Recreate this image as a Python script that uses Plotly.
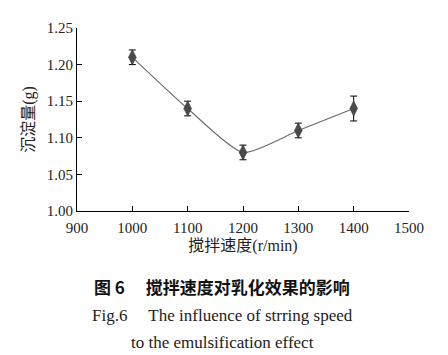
import plotly.graph_objects as go

speed = [1000, 1100, 1200, 1300, 1400]
sediment = [1.21, 1.14, 1.08, 1.11, 1.14]
err = [0.01, 0.01, 0.01, 0.01, 0.017]
x_ticks = [900, 1000, 1100, 1200, 1300, 1400, 1500]
y_ticks = [1.00, 1.05, 1.10, 1.15, 1.20, 1.25]

serif = "Liberation Serif, Noto Sans CJK SC, serif"

fig = go.Figure()
fig.add_trace(go.Scatter(
    x=speed, y=sediment, mode="lines",
    line=dict(shape="spline", smoothing=0.6, color="#6a6a6a", width=1.1),
    hoverinfo="skip", showlegend=False))
fig.add_trace(go.Scatter(
    x=speed, y=sediment, mode="markers",
    marker=dict(symbol="diamond-tall", size=11, color="#4a4a4a",
                line=dict(color="#333333", width=0.5)),
    error_y=dict(type="data", array=err, visible=True, color="black",
                 thickness=1, width=3.5),
    showlegend=False))

fig.update_layout(
    width=440, height=347,
    margin=dict(l=69, r=39, t=16, b=144),
    paper_bgcolor="white", plot_bgcolor="white",
    font=dict(family=serif, size=15, color="#222222"),
    xaxis=dict(range=[900, 1500], tickvals=x_ticks, ticktext=[str(v) for v in x_ticks],
               showline=True, linecolor="black", linewidth=1, mirror=False,
               ticks="inside", ticklen=5, tickcolor="black", showgrid=False,
               zeroline=False, ticklabelstandoff=3,
               title=dict(text="搅拌速度(r/min)", standoff=4,
                          font=dict(family=serif, size=16))),
    yaxis=dict(range=[1.00, 1.25], tickvals=y_ticks, ticktext=[f"{v:.2f}" for v in y_ticks],
               showline=True, linecolor="black", linewidth=1, mirror=False,
               ticks="inside", ticklen=5, tickcolor="black", showgrid=False,
               zeroline=False,
               title=dict(text="沉淀量(g)", standoff=8,
                          font=dict(family=serif, size=16))),
)

fig.add_annotation(text="<b>图 6　 搅拌速度对乳化效果的影响</b>", xref="paper", yref="paper",
                   x=0.5, y=-0.412, xanchor="center", yanchor="middle", showarrow=False,
                   font=dict(family="Noto Sans CJK SC, sans-serif", size=17, color="#111111"),
                   xshift=-21)
fig.add_annotation(text="Fig.6　 The influence of strring speed", xref="paper", yref="paper",
                   x=0.5, y=-0.572, xanchor="center", yanchor="middle", showarrow=False,
                   font=dict(family=serif, size=17, color="#222222"), xshift=-21)
fig.add_annotation(text="to the emulsification effect", xref="paper", yref="paper",
                   x=0.5, y=-0.717, xanchor="center", yanchor="middle", showarrow=False,
                   font=dict(family=serif, size=17, color="#222222"), xshift=-21)

fig.write_html("out.html")
